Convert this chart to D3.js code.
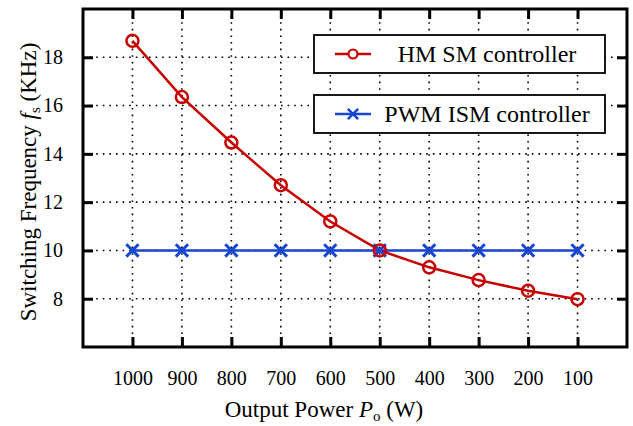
<!DOCTYPE html>
<html>
<head>
<meta charset="utf-8">
<script src="https://cdn.jsdelivr.net/npm/d3@7"></script>
<style>
    body { margin: 0; background: #fff; }
</style>
</head>
<body>
<div class="chart"></div>
<script>
// Chart data
var powerLabels = [1000, 900, 800, 700, 600, 500, 400, 300, 200, 100];
var hmSmFreq = [18.68, 16.35, 14.47, 12.7, 11.2, 10.0, 9.3, 8.77, 8.33, 7.98];
var pwmIsmFreq = [10.0, 10.0, 10.0, 10.0, 10.0, 10.0, 10.0, 10.0, 10.0, 10.0];
var yTicks = [8, 10, 12, 14, 16, 18];
var seriesNames = ["HM SM controller", "PWM ISM controller"];

var fontList = "'Liberation Serif', 'Times New Roman', Times, 'DejaVu Serif', serif";

// SVG area
var svgWidth = 633;
var svgHeight = 426;

var chartMargin = { top: 9, right: 6, bottom: 79, left: 83 };
var width = svgWidth - chartMargin.left - chartMargin.right;
var height = svgHeight - chartMargin.top - chartMargin.bottom;

var red = "#c80000";
var blue = "#1646d2";

var svg = d3.select(".chart")
    .append("svg")
    .attr("width", svgWidth)
    .attr("height", svgHeight)
    .attr("font-family", fontList);

var chart = svg.append("g")
    .attr("transform", `translate(${chartMargin.left}, ${chartMargin.top})`);

// Scales
var xScale = d3.scaleLinear().domain([1100, 0]).range([0, width]);
var yScale = d3.scaleLinear().domain([6, 20]).range([height, 0]);

// Dotted grid
chart.append("g")
    .selectAll("line")
    .data(powerLabels)
    .enter()
    .append("line")
    .attr("x1", function(d) { return xScale(d); })
    .attr("x2", function(d) { return xScale(d); })
    .attr("y1", 0)
    .attr("y2", height)
    .attr("stroke", "#000")
    .attr("stroke-width", 1.6)
    .attr("stroke-dasharray", "1.6,5");

chart.append("g")
    .selectAll("line")
    .data(yTicks)
    .enter()
    .append("line")
    .attr("x1", 0)
    .attr("x2", width)
    .attr("y1", function(d) { return yScale(d); })
    .attr("y2", function(d) { return yScale(d); })
    .attr("stroke", "#000")
    .attr("stroke-width", 1.6)
    .attr("stroke-dasharray", "1.6,5");

// Axes: inward ticks on all four sides
var bottomAxis = d3.axisBottom(xScale).tickValues(powerLabels).tickFormat(d3.format("d")).tickSize(-10).tickPadding(24);
var topAxis = d3.axisTop(xScale).tickValues(powerLabels).tickSize(-10).tickFormat("");
var leftAxis = d3.axisLeft(yScale).tickValues(yTicks).tickSize(-10).tickPadding(20);
var rightAxis = d3.axisRight(yScale).tickValues(yTicks).tickSize(-10).tickFormat("");

function styleAxis(g) {
    g.attr("font-family", fontList).attr("font-size", 20);
    g.select(".domain").remove();
    g.selectAll(".tick line").attr("stroke", "#000").attr("stroke-width", 3);
    g.selectAll(".tick text")
        .attr("fill", "#000")
        .attr("font-family", fontList);
}

chart.append("g").attr("transform", `translate(0, ${height})`).call(bottomAxis).call(styleAxis);
chart.append("g").call(topAxis).call(styleAxis);
chart.append("g").call(leftAxis).call(styleAxis);
chart.append("g").attr("transform", `translate(${width}, 0)`).call(rightAxis).call(styleAxis);

// Frame
chart.append("rect")
    .attr("x", 0)
    .attr("y", 0)
    .attr("width", width)
    .attr("height", height)
    .attr("fill", "none")
    .attr("stroke", "#000")
    .attr("stroke-width", 3);

// Lines
var line = d3.line()
    .x(function(d, i) { return xScale(powerLabels[i]); })
    .y(function(d) { return yScale(d); });

chart.append("path")
    .datum(pwmIsmFreq)
    .attr("d", line)
    .attr("fill", "none")
    .attr("stroke", blue)
    .attr("stroke-width", 2.5);

chart.append("path")
    .datum(hmSmFreq)
    .attr("d", line)
    .attr("fill", "none")
    .attr("stroke", red)
    .attr("stroke-width", 2.5);

// Cross markers for PWM ISM (symbolTimes is a stroke symbol)
var cross = d3.symbol().type(d3.symbolTimes).size(100);
chart.append("g")
    .selectAll("path")
    .data(pwmIsmFreq)
    .enter()
    .append("path")
    .attr("d", cross)
    .attr("transform", function(d, i) {
        return `translate(${xScale(powerLabels[i])}, ${yScale(d)})`;
    })
    .attr("fill", "none")
    .attr("stroke", blue)
    .attr("stroke-width", 3);

// Circle markers for HM SM
chart.append("g")
    .selectAll("circle")
    .data(hmSmFreq)
    .enter()
    .append("circle")
    .attr("cx", function(d, i) { return xScale(powerLabels[i]); })
    .attr("cy", function(d) { return yScale(d); })
    .attr("r", 6)
    .attr("fill", "none")
    .attr("stroke", red)
    .attr("stroke-width", 2.5);

// Legend boxes
var legend = svg.append("g");
var legendRows = legend.selectAll("g")
    .data(seriesNames)
    .enter()
    .append("g")
    .attr("transform", function(d, i) { return `translate(314, ${35 + i * 60})`; });

legendRows.append("rect")
    .attr("width", 291)
    .attr("height", 38)
    .attr("fill", "#fff")
    .attr("stroke", "#000")
    .attr("stroke-width", 1.8);

legendRows.append("line")
    .attr("x1", 21)
    .attr("x2", 57)
    .attr("y1", 19)
    .attr("y2", 19)
    .attr("stroke", function(d, i) { return i === 0 ? red : blue; })
    .attr("stroke-width", 2.5);

legendRows.filter(function(d, i) { return i === 0; })
    .append("circle")
    .attr("cx", 39)
    .attr("cy", 19)
    .attr("r", 4.5)
    .attr("fill", "#fff")
    .attr("stroke", red)
    .attr("stroke-width", 2.2);

legendRows.filter(function(d, i) { return i === 1; })
    .append("path")
    .attr("d", d3.symbol().type(d3.symbolTimes).size(70))
    .attr("transform", "translate(39, 19)")
    .attr("fill", "none")
    .attr("stroke", blue)
    .attr("stroke-width", 2.6);

legendRows.append("text")
    .attr("x", 173)
    .attr("y", 27)
    .attr("text-anchor", "middle")
    .attr("font-family", fontList)
    .attr("font-size", 24)
    .text(function(d) { return d; });

// Y-axis label
var yLabel = svg.append("text")
    .attr("transform", "translate(36, 182) rotate(-90)")
    .attr("text-anchor", "middle")
    .attr("font-family", fontList)
    .attr("font-size", 23);
yLabel.append("tspan").text("Switching Frequency ");
yLabel.append("tspan").attr("font-style", "italic").text("f");
yLabel.append("tspan").attr("dy", 4).attr("font-size", 15).text("s");
yLabel.append("tspan").attr("dy", -4).text(" (KHz)");

// X-axis label
var xLabel = svg.append("text")
    .attr("x", 324)
    .attr("y", 417)
    .attr("text-anchor", "middle")
    .attr("font-family", fontList)
    .attr("font-size", 23);
xLabel.append("tspan").text("Output Power ");
xLabel.append("tspan").attr("font-style", "italic").text("P");
xLabel.append("tspan").attr("dy", 4).attr("font-size", 15).text("o");
xLabel.append("tspan").attr("dy", -4).text(" (W)");
</script>
</body>
</html>
